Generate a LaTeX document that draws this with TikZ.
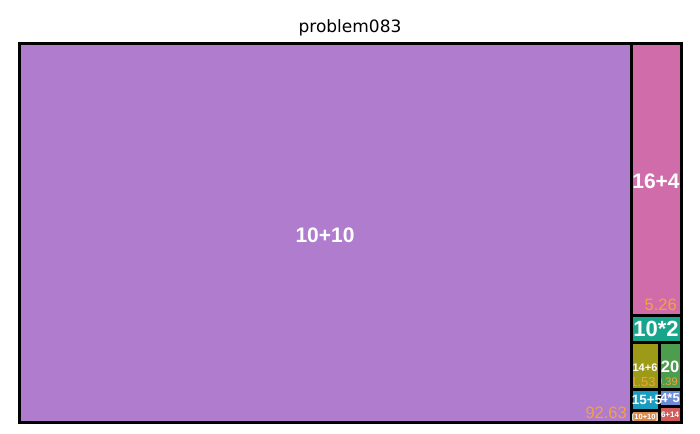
\documentclass[tikz,border=0pt]{standalone}
\usepackage{fontspec}
\setmainfont{Liberation Sans}
\newfontfamily\titlefont{DejaVu Sans}
\definecolor{tilemain}{HTML}{B07CCE}
\definecolor{tilepink}{HTML}{D16CAA}
\definecolor{tileteal}{HTML}{17A68C}
\definecolor{tileolive}{HTML}{9C9A16}
\definecolor{tilegreen}{HTML}{4C9D4E}
\definecolor{tilecyan}{HTML}{1A9CC0}
\definecolor{tileblue}{HTML}{6C8AD6}
\definecolor{tileorange}{HTML}{D98B4B}
\definecolor{tilered}{HTML}{D45B5B}
\definecolor{valorange}{HTML}{F5A23A}
\tikzset{
  tile/.style={draw=black, line width=3pt},
  tilelabel/.style={text=white, font=\bfseries, inner sep=0pt},
  vallabel/.style={text=valorange, inner sep=0pt}
}
\begin{document}
\begin{tikzpicture}[x=1pt, y=-1pt]
   \useasboundingbox[fill=white] (0,0) rectangle (700,433);
   \node[font=\titlefont\fontsize{17}{20}\selectfont, inner sep=0pt] (title) at (350,28) {problem083};
   % tiles
   \foreach \col/\xa/\ya/\xb/\yb in {tilemain/19/44/631/422, tilepink/631/44/681/315,
       tileteal/631/315/681/342, tileolive/631/342/659/389, tilegreen/659/342/681/389,
       tilecyan/631/389/659/410, tileorange/631/410/659/422,
       tileblue/659/389/681/406, tilered/659/406/681/422}
     \draw[tile, fill=\col] (\xa,\ya) rectangle (\xb,\yb);
   % names
   \node[tilelabel, font=\bfseries\fontsize{21}{24}\selectfont] (l1010) at (325,235) {10+10};
   \node[tilelabel, font=\bfseries\fontsize{21}{24}\selectfont] (l164) at (656,181) {16+4};
   \node[tilelabel, font=\bfseries\fontsize{22}{24}\selectfont] (l102) at (656,329) {10*2};
   \node[tilelabel, font=\bfseries\fontsize{11}{12}\selectfont] (l146) at (645,368) {14+6};
   \node[tilelabel, font=\bfseries\fontsize{16.5}{18}\selectfont] (l20) at (670,367) {20};
   \node[tilelabel, font=\bfseries\fontsize{13.5}{15}\selectfont] (l155) at (647,400) {15+5};
   \node[tilelabel, font=\bfseries\fontsize{13}{14}\selectfont] (l45) at (670,398) {4*5};
   \node[tilelabel, font=\bfseries\fontsize{7.5}{8}\selectfont] (lbr) at (645,418) {[10+10]};
   \node[tilelabel, font=\bfseries\fontsize{8}{9}\selectfont] (l614) at (670,415) {6+14};
   % values
   \node[vallabel, font=\fontsize{16.5}{18}\selectfont, anchor=east] (v1) at (627,413) {92.63};
   \node[vallabel, font=\fontsize{16.5}{18}\selectfont, anchor=east] (v2) at (677,305) {5.26};
   \begin{scope}
     \clip (633,344) rectangle (657,387);
     \node[vallabel, font=\fontsize{13}{15}\selectfont] (v3) at (643,382) {1.53};
   \end{scope}
   \begin{scope}
     \clip (661,344) rectangle (679,387);
     \node[vallabel, font=\fontsize{11}{12}\selectfont] (v4) at (667,382) {0.39};
   \end{scope}
\end{tikzpicture}
\end{document}
